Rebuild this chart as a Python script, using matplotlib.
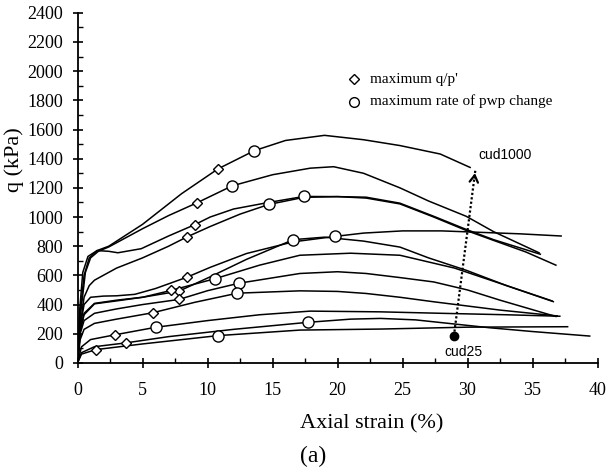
import numpy as np
import matplotlib
matplotlib.use("Agg")
import matplotlib.pyplot as plt
from matplotlib.ticker import MultipleLocator

plt.rcParams['font.family'] = ['Liberation Serif', 'DejaVu Serif']

# stress-strain curves (axial strain %, q kPa)
strain_a = [0, 0.2, 0.5, 0.9, 1.5, 2.4, 5, 8, 10.8, 13.6, 16, 19, 22, 24.8, 27.9, 30.2]
q_a = [0, 350, 600, 720, 770, 800, 950, 1160, 1330, 1455, 1525, 1560, 1530, 1490, 1432, 1340]

strain_b = [0, 0.25, 0.6, 1.0, 1.6, 2.4, 5, 7, 9.2, 11.9, 15, 17.9, 19.7, 22, 24.8, 27, 29.9, 32, 35.5]
q_b = [0, 350, 620, 720, 765, 795, 920, 1010, 1098, 1214, 1290, 1335, 1345, 1300, 1200, 1110, 1005, 900, 755]

strain_c = [0, 0.15, 0.4, 0.8, 1.5, 2.4, 3.1, 4.9, 7, 9.0, 10.2, 12, 14.7, 17.4, 20, 22.2, 24.8, 27.4, 29.9, 32, 34.5, 36.8]
q_c = [0, 350, 620, 730, 770, 765, 755, 783, 870, 947, 1000, 1055, 1100, 1141, 1140, 1130, 1090, 1000, 908, 840, 760, 670]

strain_d = [0, 0.2, 0.5, 0.9, 1.3, 3, 5, 7, 8.4, 10.2, 12.5, 14.7, 17.4, 20, 22.2, 24.8, 27.4, 29.9, 32, 35.6]
q_d = [0, 250, 450, 530, 567, 650, 720, 800, 863, 935, 1020, 1086, 1135, 1140, 1136, 1095, 1005, 915, 845, 745]

strain_e = [0, 0.2, 0.5, 1, 2, 3, 4.4, 6, 8.4, 10.2, 13, 16.6, 19.8, 22, 25, 28, 31, 34, 37.2]
q_e = [0, 250, 400, 450, 458, 460, 470, 510, 587, 655, 750, 830, 867, 890, 905, 905, 895, 885, 870]

strain_f = [0, 0.2, 0.5, 1.3, 3, 5, 7.8, 10.2, 13, 16.6, 19, 22, 24.8, 27, 29.9, 33, 36.5]
q_f = [0, 220, 340, 408, 430, 450, 492, 590, 710, 845, 862, 835, 794, 720, 635, 530, 425]

strain_g = [0, 0.2, 0.5, 1.3, 3, 5, 7.2, 10.6, 14, 17.1, 21, 24.8, 29, 33, 36.6]
q_g = [0, 220, 330, 405, 425, 450, 497, 578, 670, 738, 752, 738, 650, 530, 420]

strain_h = [0, 0.2, 0.5, 1.3, 3, 5, 7.8, 10, 12.4, 17.1, 20, 22.2, 24.8, 27.4, 30, 32.5, 36.8]
q_h = [0, 200, 290, 340, 370, 400, 435, 495, 546, 613, 625, 613, 585, 555, 500, 430, 318]

strain_i = [0, 0.2, 0.5, 1.3, 3, 5.8, 9, 12.3, 17.1, 20, 22.2, 24.8, 27.4, 32.5, 36.9]
q_i = [0, 160, 230, 271, 300, 344, 415, 478, 494, 490, 476, 450, 419, 362, 322]

strain_j = [0, 0.3, 1, 2.9, 6.0, 10, 14, 17.9, 23.3, 28, 33, 37.1]
q_j = [0, 110, 160, 193, 244, 290, 330, 355, 350, 340, 330, 320]

strain_k = [0, 0.3, 1.3, 3.7, 7, 12, 17.7, 21, 23.3, 26, 31.7, 35, 39.4]
q_k = [0, 70, 111, 137, 180, 230, 278, 300, 305, 295, 241, 215, 184]

strain_l = [0, 0.3, 1.4, 5, 10.8, 17.1, 23.3, 30, 37.7]
q_l = [0, 60, 91, 130, 187, 225, 232, 245, 248]

curves = [(strain_a, q_a), (strain_b, q_b), (strain_c, q_c), (strain_d, q_d),
          (strain_e, q_e), (strain_f, q_f), (strain_g, q_g), (strain_h, q_h),
          (strain_i, q_i), (strain_j, q_j), (strain_k, q_k), (strain_l, q_l)]

# maximum q/p' points
diamond_x = [10.8, 9.2, 9.0, 8.4, 8.4, 7.8, 7.2, 7.8, 5.8, 2.9, 3.7, 1.4]
diamond_q = [1330, 1098, 947, 863, 587, 492, 497, 435, 344, 193, 137, 91]
# maximum rate of pwp change points
circle_x = [13.6, 11.9, 17.4, 14.7, 19.8, 16.6, 10.6, 12.4, 12.3, 6.0, 17.7, 10.8]
circle_q = [1455, 1214, 1141, 1086, 867, 845, 578, 546, 478, 244, 278, 187]

# cud25 -> cud1000 trend arrow
arrow_start = (28.95, 184)
arrow_end = (30.6, 1320)

fig = plt.figure(figsize=(6.06, 4.75), dpi=100)
ax = fig.add_axes([0.128, 0.236, 0.858, 0.737])

for sx, sq in curves:
    ax.plot(sx, sq, color='k', lw=1.1)

ax.plot(diamond_x, diamond_q, 'D', ms=5, mfc='white', mec='k', mew=1.0, ls='none')
ax.plot(circle_x, circle_q, 'o', ms=8, mfc='white', mec='k', mew=1.0, ls='none')

# dotted arrow
ax.plot([arrow_start[0], arrow_end[0]], [arrow_start[1], arrow_end[1]],
        color='k', ls=(0, (1, 1)), lw=1.6)
dx = arrow_end[0] - arrow_start[0]
dy = arrow_end[1] - arrow_start[1]
ax.annotate('', xy=arrow_end, xytext=(arrow_end[0] - 0.06 * dx, arrow_end[1] - 0.06 * dy),
            arrowprops=dict(arrowstyle='->,head_length=0.5,head_width=0.3', color='k', lw=1.6))
ax.plot(arrow_start[0], arrow_start[1], 'o', color='k', ms=6)
ax.text(30.8, 1425, 'cud1000', family='Liberation Sans', fontsize=10, va='center', ha='left')
ax.text(29.7, 75, 'cud25', family='Liberation Sans', fontsize=10, va='center', ha='center')

# legend drawn by hand
ax.plot(21.3, 1945, 'D', ms=5, mfc='white', mec='k', mew=1.0)
ax.plot(21.3, 1792, 'o', ms=7, mfc='white', mec='k', mew=1.0)
ax.text(22.5, 1945, "maximum q/p'", fontsize=11, va='center')
ax.text(22.5, 1792, "maximum rate of pwp change", fontsize=11, va='center')

ax.set_xlim(0, 40)
ax.set_ylim(0, 2400)
ax.xaxis.set_major_locator(MultipleLocator(5))
ax.xaxis.set_minor_locator(MultipleLocator(2.5))
ax.yaxis.set_major_locator(MultipleLocator(200))
ax.yaxis.set_minor_locator(MultipleLocator(100))
ax.spines['top'].set_visible(False)
ax.spines['right'].set_visible(False)
ax.spines['left'].set_linewidth(1.3)
ax.spines['bottom'].set_linewidth(1.3)
ax.tick_params(which='major', direction='inout', length=7, width=1.2, labelsize=13)
ax.tick_params(which='minor', direction='in', length=3.5, width=1.0)
ax.tick_params(axis='x', which='major', pad=10)
ax.tick_params(axis='y', which='major', pad=7)

ax.set_xlabel('Axial strain (%)', fontsize=16)
ax.xaxis.set_label_coords(0.566, -0.146)
ax.set_ylabel('q (kPa)', fontsize=16)
ax.yaxis.set_label_coords(-0.103, 0.58)
fig.text(0.517, 0.038, '(a)', fontsize=17, ha='center', va='center')

plt.savefig('out.png', dpi=100)
